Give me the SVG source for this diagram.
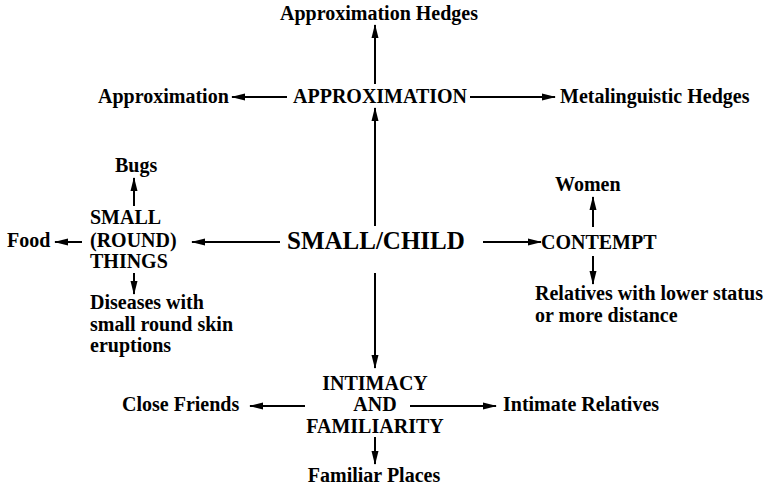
<svg xmlns="http://www.w3.org/2000/svg" width="764" height="491" viewBox="0 0 764 491">
<style>
text{font-family:"Liberation Serif","Times New Roman",serif;font-weight:bold;fill:#000;font-size:20px;}
.l{font-size:25px;}
.c{stroke:#000;stroke-width:2;fill:none;marker-end:url(#ah);}
</style>
<defs>
<marker id="ah" markerUnits="userSpaceOnUse" markerWidth="14" markerHeight="10" viewBox="0 0 14 10" refX="13" refY="5" orient="auto">
<path d="M0,1.5 L14,5 L0,8.5 Z" fill="#000"/>
</marker>
</defs>
<rect width="764" height="491" fill="#fff"/>
<g id="connectors">
<line class="c" x1="375" y1="84" x2="375" y2="25"/>
<line class="c" x1="287" y1="97" x2="232" y2="97"/>
<line class="c" x1="470" y1="97" x2="555" y2="97"/>
<line class="c" x1="375" y1="226" x2="375" y2="108"/>
<line class="c" x1="134" y1="206" x2="134" y2="178"/>
<line class="c" x1="82" y1="242" x2="55" y2="242"/>
<line class="c" x1="280" y1="242" x2="192" y2="242"/>
<line class="c" x1="134" y1="273" x2="134" y2="294"/>
<line class="c" x1="483" y1="242" x2="541" y2="242"/>
<line class="c" x1="593" y1="227" x2="593" y2="197"/>
<line class="c" x1="593" y1="256" x2="593" y2="284"/>
<line class="c" x1="375" y1="273" x2="375" y2="368"/>
<line class="c" x1="305" y1="406" x2="250" y2="406"/>
<line class="c" x1="410" y1="406" x2="496" y2="406"/>
<line class="c" x1="375" y1="437" x2="375" y2="464"/>
</g>
<g id="approximation-hedges"><text x="280" y="20">Approximation Hedges</text></g>
<g id="approximation-sub"><text x="98" y="103">Approximation</text></g>
<g id="approximation"><text x="293" y="103">APPROXIMATION</text></g>
<g id="metalinguistic-hedges"><text x="560" y="103">Metalinguistic Hedges</text></g>
<g id="bugs"><text x="115" y="172">Bugs</text></g>
<g id="small-round-things"><text x="90" y="224">SMALL</text><text x="90" y="247">(ROUND)</text><text x="90" y="268">THINGS</text></g>
<g id="food"><text x="7" y="247">Food</text></g>
<g id="diseases"><text x="90" y="309">Diseases with</text><text x="90" y="331">small round skin</text><text x="90" y="352">eruptions</text></g>
<g id="small-child"><text class="l" x="287" y="249">SMALL/CHILD</text></g>
<g id="contempt"><text x="541" y="249">CONTEMPT</text></g>
<g id="women"><text x="555" y="191">Women</text></g>
<g id="relatives-lower"><text x="535" y="300">Relatives with lower status</text><text x="535" y="322">or more distance</text></g>
<g id="intimacy"><text x="375" y="390" text-anchor="middle">INTIMACY</text><text x="375" y="411" text-anchor="middle">AND</text><text x="375" y="433" text-anchor="middle">FAMILIARITY</text></g>
<g id="close-friends"><text x="122" y="411">Close Friends</text></g>
<g id="intimate-relatives"><text x="503" y="411">Intimate Relatives</text></g>
<g id="familiar-places"><text x="374" y="482" text-anchor="middle">Familiar Places</text></g>
</svg>
